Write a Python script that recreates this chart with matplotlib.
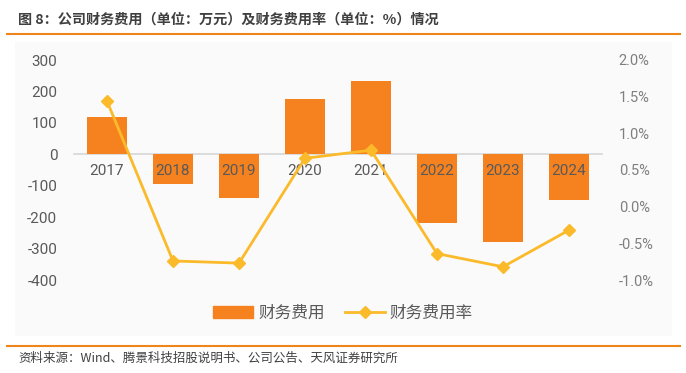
import matplotlib
matplotlib.use("Agg")
import matplotlib.pyplot as plt
from matplotlib.lines import Line2D
from matplotlib.patches import Rectangle
from matplotlib.ticker import FuncFormatter

plt.rcParams['font.family'] = ['Roboto', 'Noto Sans CJK SC', 'DejaVu Sans']
plt.rcParams['axes.unicode_minus'] = False

years = ['2017', '2018', '2019', '2020', '2021', '2022', '2023', '2024']
expense = [118, -93, -139, 176, 232, -219, -279, -145]          # 万元
expense_rate = [1.44, -0.74, -0.77, 0.66, 0.77, -0.64, -0.82, -0.32]  # %

bar_color = '#F5821F'
line_color = '#FBBA2A'
orange = '#F08519'

fig = plt.figure(figsize=(6.86, 3.73), dpi=100)

# light grey panel behind the chart
fig.add_artist(Rectangle((15 / 686, 1 - 336 / 373), 657 / 686, 294 / 373,
                         transform=fig.transFigure, facecolor='#FAFAFA',
                         edgecolor='none', zorder=0))

ax = fig.add_axes([74 / 686, 1 - 280 / 373, 528 / 686, 220 / 373])
ax.patch.set_alpha(0)
x = list(range(len(years)))
ax.bar(x, expense, width=0.62, color=bar_color, zorder=2)
ax.set_axisbelow(False)  # year labels sit on top of the bars
ax.set_xlim(-0.5, len(years) - 0.5)
ax.set_ylim(-400, 300)
ax.set_yticks(range(-400, 301, 100))
ax.set_xticks(x)
ax.set_xticklabels(years)
for s in ['top', 'right', 'left']:
    ax.spines[s].set_visible(False)
ax.spines['bottom'].set_position(('data', 0))
ax.spines['bottom'].set_color('#D9D9D9')
ax.spines['bottom'].set_linewidth(1.3)
ax.spines['bottom'].set_zorder(1)
ax.tick_params(axis='x', length=0, pad=7, labelsize=11, labelcolor='#595959')
ax.tick_params(axis='y', length=0, pad=12, labelsize=11, labelcolor='#595959')

ax2 = ax.twinx()
ax2.plot(x, expense_rate, color=line_color, lw=2, marker='D', markersize=6.5,
         zorder=3)
ax2.set_ylim(-1.0, 2.0)
ax2.set_yticks([-1.0, -0.5, 0.0, 0.5, 1.0, 1.5, 2.0])
ax2.yaxis.set_major_formatter(FuncFormatter(lambda v, p: f'{v:.1f}%'))
for s in ax2.spines.values():
    s.set_visible(False)
ax2.tick_params(axis='y', length=0, pad=12, labelsize=10.5, labelcolor='#7F7F7F')

handles = [Rectangle((0, 0), 1, 1, color=bar_color),
           Line2D([], [], color=line_color, lw=2, marker='D', markersize=6.5)]
fig.legend(handles, ['财务费用', '财务费用率'], loc='center',
           bbox_to_anchor=(343 / 686, 1 - 313 / 373), ncol=2, frameon=False,
           fontsize=12, handlelength=2.4, handletextpad=0.3, columnspacing=1.2,
           labelcolor='#595959')

fig.text(18 / 686, 1 - 20 / 373,
         '图 8：公司财务费用（单位：万元）及财务费用率（单位：%）情况',
         fontsize=10.2, fontweight='bold', color='#404040', va='center',
         family=['Noto Sans CJK SC', 'DejaVu Sans'])
fig.add_artist(Line2D([7 / 686, 680 / 686], [1 - 34 / 373, 1 - 34 / 373],
                      transform=fig.transFigure, color=orange, lw=1.5))
fig.add_artist(Line2D([7 / 686, 680 / 686], [1 - 346 / 373, 1 - 346 / 373],
                      transform=fig.transFigure, color=orange, lw=1.5))
fig.text(18 / 686, 1 - 358 / 373,
         '资料来源：Wind、腾景科技招股说明书、公司公告、天风证券研究所',
         fontsize=9, color='#404040', va='center',
         family=['Noto Sans CJK SC', 'DejaVu Sans'])

fig.savefig('out.png', dpi=100, facecolor='white')
